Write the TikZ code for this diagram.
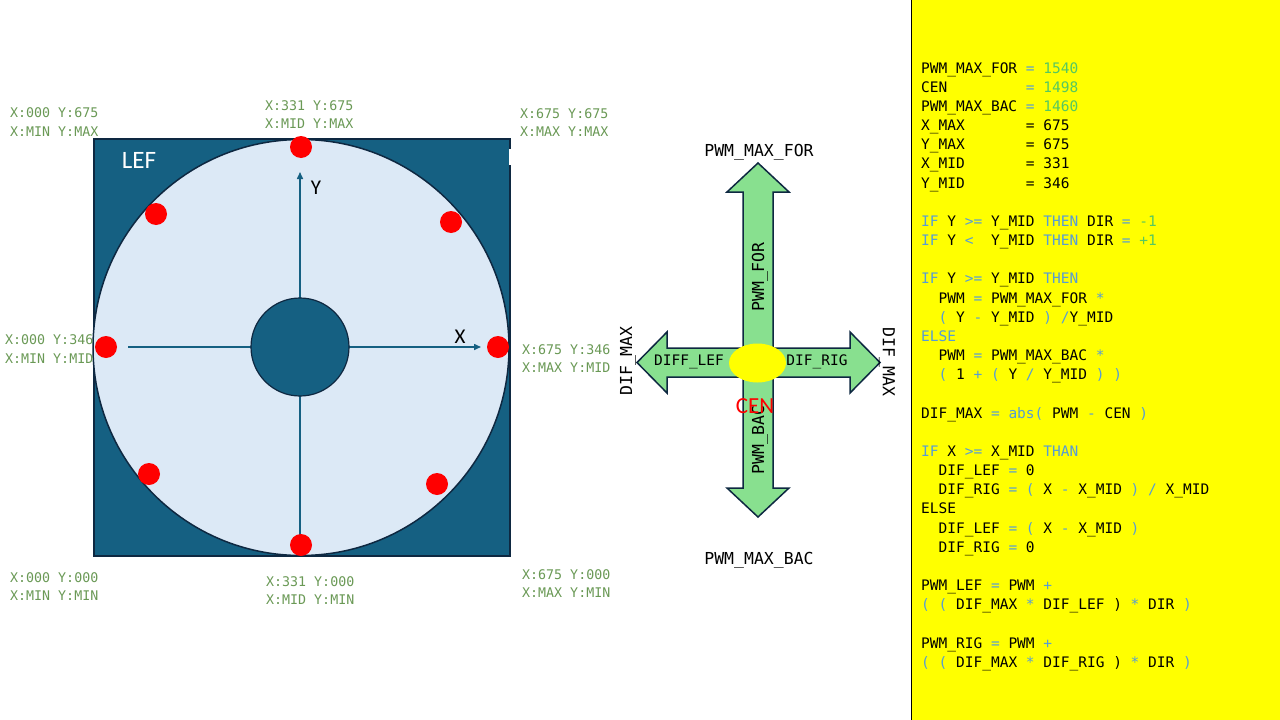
\documentclass[tikz,border=0pt]{standalone}
\usepackage{fontspec}
\setmainfont{Carlito}
\newfontfamily\monof{DejaVu Sans Mono}
\usetikzlibrary{arrows.meta}
\definecolor{tealA}{HTML}{156082}
\definecolor{navyA}{HTML}{0E2841}
\definecolor{lightfill}{HTML}{DCE9F6}
\definecolor{argreen}{HTML}{88E08F}
\definecolor{kwblue}{HTML}{569CD6}
\definecolor{numgreen}{HTML}{55C860}
\definecolor{cmtgreen}{HTML}{6A9955}
\definecolor{pureyellow}{RGB}{255,255,0}
\definecolor{purered}{RGB}{255,0,0}
\newcommand\B[1]{\textcolor{kwblue}{#1}}
\newcommand\G[1]{\textcolor{numgreen}{#1}}
\newcommand\pad[1]{\hphantom{#1}}
\begin{document}
\begin{tikzpicture}[x=1pt,y=-1pt,
  codeline/.style={font=\monof\fontsize{14.5}{19}\selectfont, anchor=base west, inner sep=0pt, text=black},
  cornerlbl/.style={font=\monof\fontsize{13.3}{18.5}\selectfont, text=cmtgreen, align=left, inner sep=0pt, anchor=west},
  arlbl/.style={font=\monof\fontsize{16.5}{20}\selectfont, inner sep=0pt, text=black},
  inlbl/.style={font=\monof\fontsize{14.5}{18}\selectfont, inner sep=0pt, text=black},
  dot/.style={fill=purered},
  axis/.style={draw=tealA, line width=1.5pt, -{Triangle[length=7pt,width=6pt]}},
  arrowshape/.style={fill=argreen, draw=navyA, line width=1.5pt, line join=miter}
]
\useasboundingbox (0,0) rectangle (1280,720);
\fill[white] (0,0) rectangle (1280,720);
% code panel
\filldraw[fill=pureyellow, draw=black, line width=1pt] (911.5,-3) rectangle (1284,723);

% square and circle
\filldraw[fill=tealA, draw=navyA, line width=1.5pt] (94,139) rectangle (510,556);
\fill[white] (508.5,149) rectangle (513,165);
\filldraw[fill=lightfill, draw=navyA, line width=1.5pt] (301,347.5) circle[radius=208];
\draw[axis] (300,545) -- (300,172);
\draw[axis] (128,347) -- (481,347);
\filldraw[fill=tealA, draw=navyA, line width=1.2pt] (300,347) circle[radius=49];

% red points
\fill[dot] (301,147) circle[radius=11];
\fill[dot] (156,214) circle[radius=11];
\fill[dot] (451,222) circle[radius=11];
\fill[dot] (106,347) circle[radius=11];
\fill[dot] (498,347) circle[radius=11];
\fill[dot] (149,474) circle[radius=11];
\fill[dot] (437,484) circle[radius=11];
\fill[dot] (301,545) circle[radius=11];

\node[text=white, font=\fontsize{25}{27}\selectfont, inner sep=0pt] (lef) at (139,160) {LEF};
\node[font=\fontsize{21}{23}\selectfont, inner sep=0pt] (ylab) at (316,188) {Y};
\node[font=\fontsize{21}{23}\selectfont, inner sep=0pt] (xlab) at (460,337) {X};

% corner labels
\node[cornerlbl] (c1) at (10,122) {X:000 Y:675\\X:MIN Y:MAX};
\node[cornerlbl] (c2) at (265,114.5) {X:331 Y:675\\X:MID Y:MAX};
\node[cornerlbl] (c3) at (520,122.5) {X:675 Y:675\\X:MAX Y:MAX};
\node[cornerlbl] (c4) at (5,349) {X:000 Y:346\\X:MIN Y:MID};
\node[cornerlbl] (c5) at (522,358.5) {X:675 Y:346\\X:MAX Y:MID};
\node[cornerlbl] (c6) at (10,586.5) {X:000 Y:000\\X:MIN Y:MIN};
\node[cornerlbl] (c7) at (266,590.5) {X:331 Y:000\\X:MID Y:MIN};
\node[cornerlbl] (c8) at (522,583.5) {X:675 Y:000\\X:MAX Y:MIN};

% cross arrows
\draw[arrowshape] (637,362.5) -- (667,332) -- (667,348) -- (850,348) -- (850,332) -- (880,362.5)
  -- (850,393) -- (850,377) -- (667,377) -- (667,393) -- cycle;
\draw[arrowshape] (758,163) -- (789,192) -- (773,192) -- (773,488) -- (789,488) -- (758,517)
  -- (727,488) -- (743,488) -- (743,192) -- (727,192) -- cycle;
\fill[pureyellow] (757.5,363) ellipse[x radius=28.5, y radius=19.5];

\node[arlbl] (pmf) at (759,152) {PWM\_MAX\_FOR};
\node[arlbl] (pmb) at (759,560) {PWM\_MAX\_BAC};
\node[arlbl, rotate=90] (pfor) at (760,277) {PWM\_FOR};
\node[arlbl, rotate=90] (pbac) at (760,440) {PWM\_BAC};
\node[arlbl, rotate=90] (dml) at (628,361) {DIF\_MAX};
\node[arlbl, rotate=-90] (dmr) at (887,362) {DIF\_MAX};
\node[inlbl] (dlef) at (689,362) {DIFF\_LEF};
\node[inlbl] (drig) at (817,362) {DIF\_RIG};
\node[text=purered, font=\fontsize{23}{25}\selectfont, inner sep=0pt] (cen) at (755,406) {CEN};

% code
\node[codeline] (l1) at (921,73+19.17*0) {PWM\_MAX\_FOR \B{=} \G{1540}};
\node[codeline] (l2) at (921,73+19.17*1) {CEN\pad{XXXXXXXX} \B{=} \G{1498}};
\node[codeline] (l3) at (921,73+19.17*2) {PWM\_MAX\_BAC \B{=} \G{1460}};
\node[codeline] (l4) at (921,73+19.17*3) {X\_MAX\pad{XXXXXX} = 675};
\node[codeline] (l5) at (921,73+19.17*4) {Y\_MAX\pad{XXXXXX} = 675};
\node[codeline] (l6) at (921,73+19.17*5) {X\_MID\pad{XXXXXX} = 331};
\node[codeline] (l7) at (921,73+19.17*6) {Y\_MID\pad{XXXXXX} = 346};
\node[codeline] (l9) at (921,73+19.17*8) {\B{IF} Y \B{>=} Y\_MID \B{THEN} DIR \B{=} \G{-1}};
\node[codeline] (l10) at (921,73+19.17*9) {\B{IF} Y \B{<}\pad{X} Y\_MID \B{THEN} DIR \B{=} \G{+1}};
\node[codeline] (l12) at (921,73+19.17*11) {\B{IF} Y \B{>=} Y\_MID \B{THEN}};
\node[codeline] (l13) at (921,73+19.17*12) {\pad{XX}PWM \B{=} PWM\_MAX\_FOR \B{*}};
\node[codeline] (l14) at (921,73+19.17*13) {\pad{XX}\B{(} Y \B{-} Y\_MID \B{)} \B{/}Y\_MID};
\node[codeline] (l15) at (921,73+19.17*14) {\B{ELSE}};
\node[codeline] (l16) at (921,73+19.17*15) {\pad{XX}PWM \B{=} PWM\_MAX\_BAC \B{*}};
\node[codeline] (l17) at (921,73+19.17*16) {\pad{XX}\B{(} 1 \B{+} \B{(} Y \B{/} Y\_MID \B{)} \B{)}};
\node[codeline] (l19) at (921,73+19.17*18) {DIF\_MAX \B{=} \B{abs(} PWM \B{-} CEN \B{)}};
\node[codeline] (l21) at (921,73+19.17*20) {\B{IF} X \B{>=} X\_MID \B{THAN}};
\node[codeline] (l22) at (921,73+19.17*21) {\pad{XX}DIF\_LEF \B{=} 0};
\node[codeline] (l23) at (921,73+19.17*22) {\pad{XX}DIF\_RIG \B{=} \B{(} X \B{-} X\_MID \B{)} \B{/} X\_MID};
\node[codeline] (l24) at (921,73+19.17*23) {ELSE};
\node[codeline] (l25) at (921,73+19.17*24) {\pad{XX}DIF\_LEF \B{=} \B{(} X \B{-} X\_MID \B{)}};
\node[codeline] (l26) at (921,73+19.17*25) {\pad{XX}DIF\_RIG \B{=} 0};
\node[codeline] (l28) at (921,73+19.17*27) {PWM\_LEF \B{=} PWM \B{+}};
\node[codeline] (l29) at (921,73+19.17*28) {\B{(} \B{(} DIF\_MAX \B{*} DIF\_LEF ) \B{*} DIR \B{)}};
\node[codeline] (l31) at (921,73+19.17*30) {PWM\_RIG \B{=} PWM \B{+}};
\node[codeline] (l32) at (921,73+19.17*31) {\B{(} \B{(} DIF\_MAX \B{*} DIF\_RIG ) \B{*} DIR \B{)}};
\end{tikzpicture}
\end{document}
